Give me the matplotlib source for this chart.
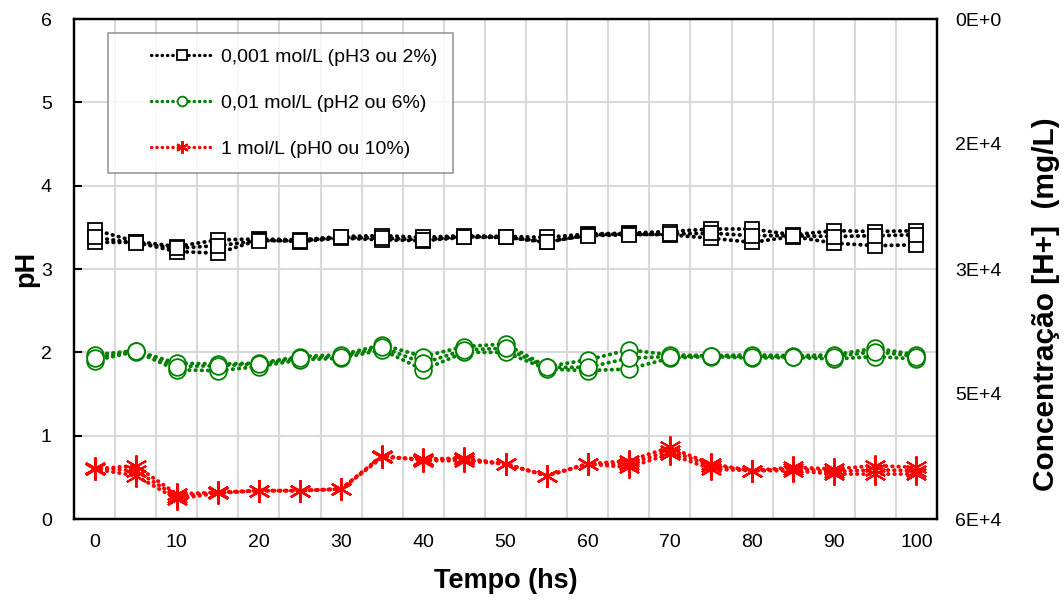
import matplotlib
matplotlib.use("Agg")
import matplotlib.pyplot as plt
from matplotlib.lines import Line2D
from matplotlib.legend_handler import HandlerLine2D
import numpy as np

plt.rcParams['font.family'] = ['Liberation Sans', 'DejaVu Sans']

tempo = [0, 5, 10, 15, 20, 25, 30, 35, 40, 45, 50, 55, 60, 65, 70, 75, 80, 85, 90, 95, 100]

# 0,001 mol/L (pH3) - three replicates
ph3_a = [3.47, 3.33, 3.27, 3.35, 3.36, 3.35, 3.39, 3.40, 3.38, 3.40, 3.39, 3.38, 3.42, 3.43, 3.45, 3.48, 3.48, 3.41, 3.46, 3.45, 3.46]
ph3_b = [3.32, 3.32, 3.21, 3.19, 3.35, 3.33, 3.37, 3.35, 3.34, 3.38, 3.38, 3.32, 3.41, 3.42, 3.41, 3.37, 3.32, 3.39, 3.31, 3.28, 3.29]
ph3_c = [3.38, 3.31, 3.25, 3.28, 3.34, 3.34, 3.38, 3.37, 3.35, 3.39, 3.38, 3.33, 3.40, 3.41, 3.42, 3.43, 3.40, 3.40, 3.39, 3.40, 3.41]

# 0,01 mol/L (pH2)
ph2_a = [1.97, 2.02, 1.87, 1.86, 1.87, 1.95, 1.97, 2.09, 1.95, 2.07, 2.10, 1.83, 1.91, 2.03, 1.97, 1.96, 1.97, 1.96, 1.97, 2.05, 1.97]
ph2_b = [1.90, 2.01, 1.79, 1.78, 1.83, 1.91, 1.93, 2.03, 1.79, 2.00, 2.00, 1.80, 1.78, 1.80, 1.93, 1.95, 1.93, 1.94, 1.92, 1.95, 1.92]
ph2_c = [1.93, 2.02, 1.83, 1.84, 1.86, 1.93, 1.95, 2.06, 1.87, 2.03, 2.05, 1.82, 1.82, 1.93, 1.95, 1.96, 1.95, 1.95, 1.95, 2.01, 1.95]

# 1 mol/L (pH0)
ph0_a = [0.60, 0.64, 0.30, 0.32, 0.34, 0.34, 0.36, 0.74, 0.72, 0.73, 0.66, 0.52, 0.66, 0.70, 0.86, 0.66, 0.58, 0.62, 0.60, 0.64, 0.62]
ph0_b = [0.60, 0.52, 0.24, 0.31, 0.34, 0.34, 0.36, 0.76, 0.70, 0.70, 0.66, 0.52, 0.66, 0.62, 0.78, 0.60, 0.58, 0.58, 0.54, 0.54, 0.54]
ph0_c = [0.61, 0.58, 0.27, 0.32, 0.34, 0.34, 0.36, 0.75, 0.71, 0.72, 0.66, 0.52, 0.66, 0.66, 0.82, 0.64, 0.58, 0.60, 0.57, 0.59, 0.58]

labels = ['0,001 mol/L (pH3 ou 2%)', '0,01 mol/L (pH2 ou 6%)', '1 mol/L (pH0 ou 10%)']
x_ticks = [0, 10, 20, 30, 40, 50, 60, 70, 80, 90, 100]
right_ticks = [6, 4.5, 3, 1.5, 0]
right_labels = ['0E+0', '2E+4', '3E+4', '5E+4', '6E+4']

fig = plt.figure(figsize=(10.64, 6.04), dpi=100)
ax = fig.add_axes([74/1064, 85/604, 863/1064, 500/604])

star = (6, 2, 0)
dot = (0, (0.1, 1.5))
styles = [
    dict(color='black', marker='s', ms=10, mfc='white', mec='black', mew=1.3),
    dict(color='#008000', marker='o', ms=12, mfc='white', mec='#008000', mew=1.3),
    dict(color='#FF0000', marker=star, ms=16, mfc='#FF0000', mec='#FF0000', mew=1.5),
]
groups = [[ph3_a, ph3_b, ph3_c], [ph2_a, ph2_b, ph2_c], [ph0_a, ph0_b, ph0_c]]

for grp, st in zip(groups, styles):
    for ys in grp:
        ax.plot(tempo, ys, linestyle=dot, lw=2.8, dash_capstyle='round', zorder=3, **st)

ax.set_xlim(-2.5, 102.5)
ax.set_ylim(0, 6)
ax.set_xticks(x_ticks)
ax.set_xticks(np.arange(2.5, 100, 5), minor=True)
ax.set_yticks(range(0, 7))
ax.grid(True, which='minor', axis='x', color='#d9d9d9', lw=1.5, zorder=0)
ax.grid(True, which='major', axis='y', color='#d9d9d9', lw=1.5, zorder=0)
ax.tick_params(axis='x', which='both', length=0, labelsize=14, pad=11)
ax.tick_params(axis='y', direction='in', length=6, width=1.5, labelsize=14, pad=16)
for s in ax.spines.values():
    s.set_linewidth(1.6)
ax.set_xlabel('Tempo (hs)', fontsize=19.5, fontweight='bold', labelpad=12)
ax.set_ylabel('pH', fontsize=19.5, fontweight='bold', va='center', ha='center')
ax.yaxis.set_label_coords(-0.055, 0.5)

ax2 = ax.twinx()
ax2.set_ylim(0, 6)
ax2.set_yticks(right_ticks)
ax2.set_yticklabels(right_labels)
ax2.tick_params(axis='y', direction='in', length=0, labelsize=14, pad=13)
ax2.set_ylabel('Concentração [H+]  (mg/L)', fontsize=21.5, fontweight='bold',
               va='center', ha='center', rotation=90)
ax2.yaxis.set_label_coords(1.126, 0.43)
for s in ax2.spines.values():
    s.set_linewidth(1.6)


class ShiftedHandler(HandlerLine2D):
    def __init__(self, gap_em, **kw):
        super().__init__(**kw)
        self.gap_em = gap_em

    def create_artists(self, legend, orig_handle, xdescent, ydescent, width, height, fontsize, trans):
        gap = self.gap_em * fontsize
        return super().create_artists(legend, orig_handle, xdescent - gap, ydescent,
                                      width - gap, height, fontsize, trans)


handles = []
for st, lab in zip(styles, labels):
    st2 = dict(st)
    st2['ms'] = 7 if st['marker'] != star else 9
    handles.append(Line2D([], [], linestyle=dot, lw=2.4, dash_capstyle='round', label=lab, **st2))
leg = ax.legend(handles=handles, loc='upper left', bbox_to_anchor=(0.039, 0.972),
                fontsize=14, frameon=True, fancybox=False, edgecolor='#808080',
                handlelength=4.6, handletextpad=0.45, labelspacing=1.45,
                borderpad=0.8, borderaxespad=0, numpoints=1,
                handler_map={Line2D: ShiftedHandler(1.45, numpoints=1)})
leg.get_frame().set_linewidth(1.2)
leg.set_zorder(5)

fig.savefig('out.png', dpi=100)
